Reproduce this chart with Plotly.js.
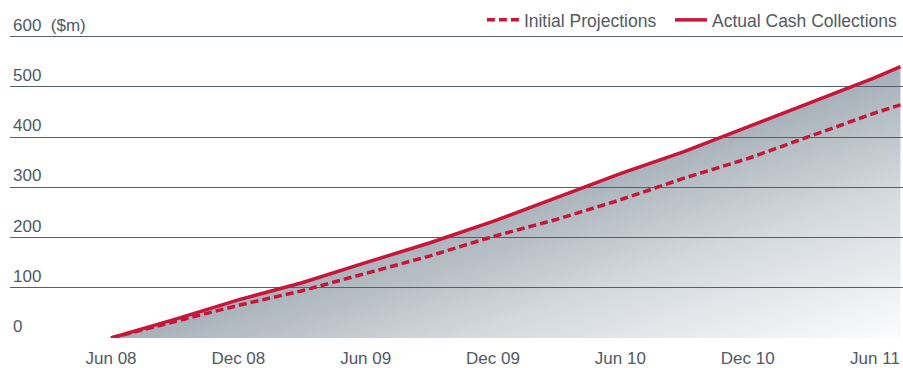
<!DOCTYPE html>
<html>
<head>
<meta charset="utf-8">
<script src="https://cdn.plot.ly/plotly-3.0.1.min.js"></script>
<style>html,body{margin:0;padding:0;background:#fff;}#chart{width:903px;height:368px;}</style>
</head>
<body>
<div id="chart"></div>
<script>
// Months since Jun 2008
const months    = [0, 3, 6, 9, 12, 15, 18, 21, 24, 27, 30, 33, 36, 37.2];
const actual    = [0, 37, 76, 110, 150, 189, 232, 280, 327, 371, 420, 469, 518, 540];
const projected = [0, 33, 65, 94, 128, 163, 202, 236, 275, 318, 357, 402, 448, 464];
const xTickVals = [0, 6, 12, 18, 24, 30, 36];
const xTickText = ['Jun 08', 'Dec 08', 'Jun 09', 'Dec 09', 'Jun 10', 'Dec 10', 'Jun 11'];
const yTickVals = [0, 100, 200, 300, 400, 500, 600];
const yTickText = ['0', '100', '200', '300', '400', '500', '600  ($m)'];
const seriesNames = ['Initial Projections', 'Actual Cash Collections'];

const RED = '#c8163a';
const TXT = '#505a64';
const FONT = 'Liberation Sans, Arial, Helvetica, sans-serif';

const traces = [
  {
    x: months, y: actual, type: 'scatter', mode: 'lines',
    fill: 'tozeroy', fillcolor: '#c3cad1',
    line: {width: 0, color: 'rgba(0,0,0,0)'},
    showlegend: false, hoverinfo: 'skip'
  },
  {
    x: months, y: projected, type: 'scatter', mode: 'lines', name: seriesNames[0],
    line: {color: RED, width: 3.5, dash: '8px,4px'}, legend: 'legend'
  },
  {
    x: months, y: actual, type: 'scatter', mode: 'lines', name: seriesNames[1],
    line: {color: RED, width: 3.5}, legend: 'legend2'
  }
];

const legendBase = {
  orientation: 'h', xanchor: 'right', y: 0.955, yanchor: 'middle',
  font: {family: FONT, size: 17.5, color: TXT},
  bgcolor: 'rgba(0,0,0,0)', itemwidth: 32
};

const layout = {
  width: 903, height: 368,
  margin: {l: 10, r: 0, t: 5, b: 30, autoexpand: false},
  paper_bgcolor: '#fff', plot_bgcolor: '#fff',
  font: {family: FONT, color: TXT, size: 17},
  showlegend: true,
  legend: Object.assign({}, legendBase, {x: 0.730}),
  legend2: Object.assign({}, legendBase, {x: 1.0}),
  xaxis: {
    range: [-4.76, 37.32], tickvals: xTickVals, ticktext: xTickText,
    showgrid: false, zeroline: false, showline: false, ticks: '',
    ticklabelstandoff: 8,
    tickfont: {family: FONT, size: 17, color: TXT}, fixedrange: true
  },
  yaxis: {
    range: [0, 662.7], tickvals: yTickVals, ticktext: yTickText,
    showgrid: true, gridcolor: '#52606b', gridwidth: 1,
    zeroline: false, showline: false, ticks: '',
    ticklabelposition: 'inside top',
    tickfont: {family: FONT, size: 17, color: TXT}, fixedrange: true
  }
};

const gd = document.getElementById('chart');
Plotly.newPlot(gd, traces, layout, {staticPlot: true, displayModeBar: false}).then(function () {
  try {
    const svgNS = 'http://www.w3.org/2000/svg';
    const xa = gd._fullLayout.xaxis, ya = gd._fullLayout.yaxis;
    const n = months.length - 1;
    const p0 = [xa.l2p(months[0]), ya.l2p(actual[0])];
    const p1 = [xa.l2p(months[n]), ya.l2p(actual[n])];
    const c  = [xa.l2p(months[n]), ya.l2p(0)];
    let nx = -(p1[1] - p0[1]), ny = (p1[0] - p0[0]);
    const len = Math.hypot(nx, ny); nx /= len; ny /= len;
    const dist = (c[0] - p0[0]) * nx + (c[1] - p0[1]) * ny;
    const defs = gd.querySelector('.main-svg defs');
    const grad = document.createElementNS(svgNS, 'linearGradient');
    grad.setAttribute('id', 'diagFill');
    grad.setAttribute('gradientUnits', 'userSpaceOnUse');
    grad.setAttribute('x1', p0[0]); grad.setAttribute('y1', p0[1]);
    grad.setAttribute('x2', p0[0] + nx * dist); grad.setAttribute('y2', p0[1] + ny * dist);
    [[0, 'rgb(166,175,184)'], [0.45, 'rgb(212,217,222)'], [1, 'rgb(251,252,252)']].forEach(function (s) {
      const st = document.createElementNS(svgNS, 'stop');
      st.setAttribute('offset', s[0]); st.setAttribute('stop-color', s[1]);
      grad.appendChild(st);
    });
    defs.appendChild(grad);
    const fillPath = gd.querySelector('.scatterlayer .trace .js-fill');
    fillPath.style.setProperty('fill', 'url(#diagFill)');
    fillPath.style.setProperty('fill-opacity', '1');
    // place the fill beneath the gridlines
    const traceG = fillPath.closest('g.trace');
    const plotG = gd.querySelector('.overplot > .xy');
    const subplot = gd.querySelector('.cartesianlayer .subplot.xy');
    const grid = subplot.querySelector('.gridlayer');
    const wrap = document.createElementNS(svgNS, 'g');
    wrap.setAttribute('transform', plotG.getAttribute('transform'));
    wrap.appendChild(traceG);
    grid.parentNode.insertBefore(wrap, grid);
  } catch (e) { console.log(e); }
});
</script>
</body>
</html>
